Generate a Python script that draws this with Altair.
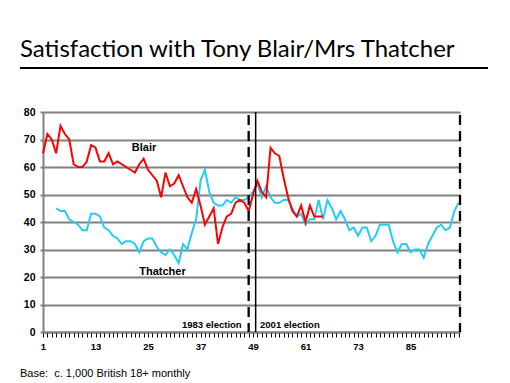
import altair as alt
import pandas as pd

# ---- data ----
blair_months = list(range(1, 66))
blair_values = [65, 72, 70, 65, 75, 72, 70, 61, 60, 60,
                62, 68, 67, 62, 62, 65, 61, 62, 61, 60,
                59, 58, 61, 63, 59, 57, 55, 49, 58, 53,
                54, 57, 53, 49, 47, 52, 46, 39, 42, 45,
                32, 38, 42, 43, 47, 48, 47, 44, 50, 55,
                51, 49, 67, 65, 64, 56, 49, 44, 42, 46,
                40, 46, 42, 42, 42]

thatcher_months = list(range(4, 97))
thatcher_values = [45, 44, 44, 41, 40, 39, 37, 37, 43, 43,
                   42, 38, 37, 35, 34, 32, 33, 33, 32, 29,
                   33, 34, 34, 31, 29, 28, 30, 28, 25, 32,
                   30, 36, 41, 55, 59, 51, 47, 46, 46, 48,
                   47, 49, 48, 48, 49, 51, 54, 49, 53, 49,
                   47, 47, 48, 48, 45, 42, 43, 39, 41, 41,
                   48, 41, 48, 45, 41, 44, 41, 37, 38, 35,
                   38, 38, 33, 35, 39, 39, 39, 33, 29, 32,
                   32, 29, 30, 30, 27, 32, 35, 38, 39, 37,
                   38, 44, 47]

series_names = ["Blair", "Thatcher"]
series_colors = ["#ff0000", "#22ccf6"]

x_tick_values = list(range(1, 97))
y_tick_values = [0, 10, 20, 30, 40, 50, 60, 70, 80]

dashed_lines = [48, 96.3]
solid_lines = [49.6]

label_text = ["Blair", "Thatcher"]
label_month = [24.1, 28.3]
label_value = [66.8, 21.9]

election_text = ["1983 election", "2001 election"]
election_month = [46.4, 50.6]
election_value = [2.7, 2.7]
election_align = ["right", "left"]

title_text = "Satisfaction with Tony Blair/Mrs Thatcher"
note_text = "Base:\u00a0 c. 1,000 British 18+ monthly"

# ---- tables ----
lines_df = pd.DataFrame({
    "month": blair_months + thatcher_months,
    "value": blair_values + thatcher_values,
    "series": ["Blair"] * len(blair_months) + ["Thatcher"] * len(thatcher_months),
})
labels_df = pd.DataFrame({"text": label_text, "month": label_month, "value": label_value})
elec_df = pd.DataFrame({"text": election_text, "month": election_month,
                        "value": election_value, "align": election_align})
dash_df = pd.DataFrame({"month": dashed_lines})
solid_df = pd.DataFrame({"month": solid_lines})

XMAX = 96.3
xscale = alt.Scale(domain=[1, XMAX], nice=False, zero=False)
yscale = alt.Scale(domain=[0, 80], nice=False)

x_axis = alt.Axis(values=x_tick_values,
                  labelExpr="(datum.value - 1) % 12 == 0 ? datum.label : ''",
                  labelOverlap=False, labelFlush=False, grid=False,
                  tickSize=5, tickColor="#000000", tickWidth=1,
                  domainColor="#808080", domainWidth=2,
                  labelFont="Liberation Sans", labelFontWeight="bold",
                  labelFontSize=9.5, labelColor="#000000", labelPadding=4,
                  title=None)
y_axis = alt.Axis(values=y_tick_values, grid=True, gridColor="#808080", gridWidth=2,
                  labelOverlap=False,
                  tickSize=3, tickColor="#808080", tickWidth=2,
                  domainColor="#808080", domainWidth=2,
                  labelFont="Liberation Sans", labelFontWeight="bold",
                  labelFontSize=10.5, labelColor="#000000", labelPadding=5,
                  title=None)

X = alt.X("month:Q", scale=xscale, axis=x_axis)
Y = alt.Y("value:Q", scale=yscale, axis=y_axis)

lines = alt.Chart(lines_df).mark_line(strokeWidth=2).encode(
    x=X,
    y=Y,
    color=alt.Color("series:N", scale=alt.Scale(domain=series_names, range=series_colors),
                    legend=None),
    order=alt.Order("month:Q"),
)
thatcher_layer = lines.transform_filter(alt.datum.series == "Thatcher")
blair_layer = lines.transform_filter(alt.datum.series == "Blair")

dashed = alt.Chart(dash_df).mark_rule(color="#000000", strokeWidth=2.3,
                                      strokeDash=[10, 6]).encode(
    x=X,
    y=alt.value(3),
    y2=alt.value(220),
)
solid = alt.Chart(solid_df).mark_rule(color="#000000", strokeWidth=1.5).encode(
    x=X,
    y=alt.value(0),
    y2=alt.value(220),
)

series_labels = alt.Chart(labels_df).mark_text(
    font="Liberation Sans", fontWeight="bold", fontSize=11, color="#000000",
    baseline="middle", align="center").encode(
    x=X, y=Y, text="text:N",
)

elec_left = alt.Chart(elec_df).transform_filter(alt.datum.align == "right").mark_text(
    font="Liberation Sans", fontWeight="bold", fontSize=9.5, color="#000000",
    baseline="middle", align="right").encode(
    x=X, y=Y, text="text:N",
)
elec_right = alt.Chart(elec_df).transform_filter(alt.datum.align == "left").mark_text(
    font="Liberation Sans", fontWeight="bold", fontSize=9.5, color="#000000",
    baseline="middle", align="left").encode(
    x=X, y=Y, text="text:N",
)

title = alt.Chart(pd.DataFrame({"t": [title_text]})).mark_text(
    font="Lato", fontSize=24, color="#000000", align="left",
    baseline="alphabetic").encode(
    x=alt.value(-23), y=alt.value(-55), text="t:N")

underline = alt.Chart(pd.DataFrame({"a": [0]})).mark_rule(
    color="#000000", strokeWidth=2).encode(
    x=alt.value(-23), x2=alt.value(445), y=alt.value(-44))

note = alt.Chart(pd.DataFrame({"t": [note_text]})).mark_text(
    font="Liberation Sans", fontSize=11, color="#000000", align="left",
    baseline="alphabetic").encode(
    x=alt.value(-23), y=alt.value(265), text="t:N")

chart = alt.layer(
    thatcher_layer, blair_layer, dashed, solid, series_labels,
    elec_left, elec_right, title, underline, note
).properties(
    width=417, height=220,
    autosize=alt.AutoSizeParams(type="none"),
    padding={"left": 35, "top": 104, "right": 40, "bottom": 50},
).configure_view(stroke=None).configure(background="#ffffff")

chart.save("out.html", embed_options={"renderer": "svg", "actions": False})
